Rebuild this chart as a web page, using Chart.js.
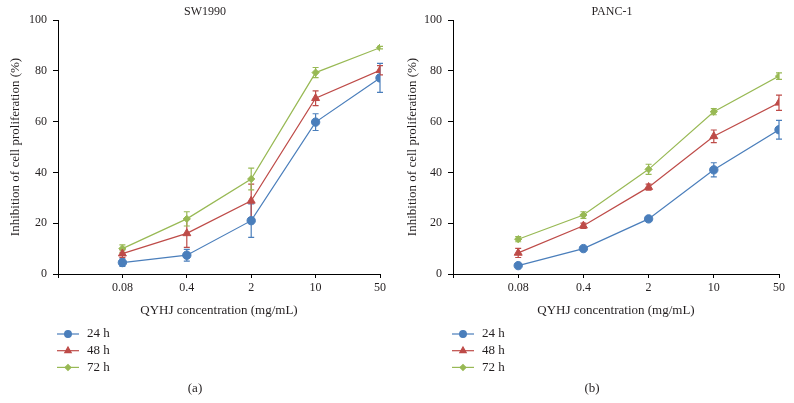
<!DOCTYPE html>
<html>
<head>
<meta charset="utf-8">
<script src="https://cdn.jsdelivr.net/npm/chart.js@4.4.0/dist/chart.umd.min.js"></script>
<style>
body{margin:0;background:#fff;}
.wrap{display:flex;width:794px;height:403px;}
.panel{width:397px;height:403px;}
</style>
</head>
<body>
<div class="wrap">
  <div class="panel"><canvas id="chartA" width="397" height="403"></canvas></div>
  <div class="panel"><canvas id="chartB" width="397" height="403"></canvas></div>
</div>
<script>
// data
const concentrations = ['0.08', '0.4', '2', '10', '50'];
const seriesNames = ['24 h', '48 h', '72 h'];

const sw24 = [4.5, 7.4, 21, 59.8, 77.2];
const sw24Err = [1.5, 2.3, 6.6, 3.3, 5.7];
const sw48 = [8, 16, 28.8, 69.2, 80.2];
const sw48Err = [1.5, 5.5, 6.6, 2.9, 1.8];
const sw72 = [10, 21.7, 37.4, 79.3, 89.1];
const sw72Err = [1.5, 2.8, 4.3, 2, 0.5];

const pc24 = [3.3, 10, 21.7, 41, 56.8];
const pc24Err = [0.5, 0.6, 1, 2.8, 3.7];
const pc48 = [8.3, 19, 34.2, 54.2, 67.4];
const pc48Err = [1.8, 1, 1.2, 2.5, 3];
const pc72 = [13.7, 23.2, 41.2, 63.9, 77.9];
const pc72Err = [1, 1.3, 2, 1.2, 1.3];

const colors = ['#4a7ebb', '#be4b48', '#98b954'];
const pointStyles = ['circle', 'triangle', 'rectRot'];
const pointSizes = [4.2, 4.6, 3.6];
const textColor = '#231f20';
const serif = '"Liberation Serif", "DejaVu Serif", serif';

function toPoints(values) {
    return values.map((v, i) => ({x: i + 1, y: v}));
}

function makeDatasets(series, errors) {
    return series.map((s, i) => ({
        label: seriesNames[i],
        data: toPoints(s),
        errors: errors[i],
        borderColor: colors[i],
        backgroundColor: colors[i],
        borderWidth: 1.2,
        pointStyle: pointStyles[i],
        pointRadius: pointSizes[i],
        pointBorderWidth: 1,
        tension: 0,
        fill: false
    }));
}

// vertical error bars, drawn under the markers
const errorBars = {
    id: 'errorBars',
    beforeDatasetsDraw(chart) {
        const ctx = chart.ctx;
        const yScale = chart.scales.y;
        chart.data.datasets.forEach((ds, di) => {
            const meta = chart.getDatasetMeta(di);
            ctx.save();
            ctx.strokeStyle = ds.borderColor;
            ctx.lineWidth = 1.2;
            meta.data.forEach((pt, i) => {
                const v = ds.data[i].y;
                const e = ds.errors[i];
                const top = yScale.getPixelForValue(v + e);
                const bot = yScale.getPixelForValue(v - e);
                ctx.beginPath();
                ctx.moveTo(pt.x, top); ctx.lineTo(pt.x, bot);
                ctx.moveTo(pt.x - 3, top); ctx.lineTo(pt.x + 3, top);
                ctx.moveTo(pt.x - 3, bot); ctx.lineTo(pt.x + 3, bot);
                ctx.stroke();
            });
            ctx.restore();
        });
    }
};

// title, vertical legend and panel caption
const extras = {
    id: 'extras',
    afterDraw(chart, args, opts) {
        const ctx = chart.ctx;
        ctx.save();
        ctx.fillStyle = textColor;
        ctx.textBaseline = 'middle';
        ctx.textAlign = 'center';
        ctx.font = '12px ' + serif;
        ctx.fillText(opts.title, opts.titleX, 12);
        ctx.font = '13px ' + serif;
        ctx.fillText(opts.caption, opts.captionX, 389);

        ctx.textAlign = 'left';
        chart.data.datasets.forEach((ds, i) => {
            const y = 334 + i * 16.7;
            ctx.strokeStyle = ds.borderColor;
            ctx.fillStyle = ds.backgroundColor;
            ctx.lineWidth = 1.2;
            ctx.beginPath();
            ctx.moveTo(opts.legendX, y);
            ctx.lineTo(opts.legendX + 22, y);
            ctx.stroke();
            Chart.helpers.drawPoint(ctx, {
                pointStyle: ds.pointStyle, radius: ds.pointRadius * 0.8, rotation: 0, borderWidth: 1
            }, opts.legendX + 11, y);
            ctx.fillStyle = textColor;
            ctx.fillText(ds.label, opts.legendX + 30, y);
        });
        ctx.restore();
    }
};

function makeChart(id, series, errors, panel) {
    return new Chart(document.getElementById(id), {
        type: 'line',
        data: {datasets: makeDatasets(series, errors)},
        plugins: [errorBars, extras],
        options: {
            responsive: false,
            animation: false,
            layout: {padding: {left: 0, right: panel.right, top: 20, bottom: 85}},
            plugins: {
                legend: {display: false},
                tooltip: {enabled: false},
                extras: panel
            },
            scales: {
                x: {
                    type: 'linear',
                    min: 0,
                    max: 5,
                    afterFit: (s) => { s.height = 44; },
                    ticks: {
                        stepSize: 1,
                        autoSkip: false,
                        maxRotation: 0,
                        padding: 3,
                        color: textColor,
                        font: {family: serif, size: 12},
                        callback: (v) => concentrations[v - 1] || ''
                    },
                    grid: {drawOnChartArea: false, drawTicks: true, tickLength: 4, color: '#000'},
                    border: {display: true, color: '#000', width: 1},
                    title: {
                        display: true,
                        text: 'QYHJ concentration (mg/mL)',
                        color: textColor,
                        font: {family: serif, size: 13},
                        padding: {top: 0, bottom: 0}
                    }
                },
                y: {
                    min: 0,
                    max: 100,
                    afterFit: (s) => { s.width = panel.axisX; },
                    ticks: {
                        stepSize: 20,
                        padding: 6,
                        color: textColor,
                        font: {family: serif, size: 12}
                    },
                    grid: {drawOnChartArea: false, drawTicks: true, tickLength: 5, color: '#000'},
                    border: {display: true, color: '#000', width: 1},
                    title: {
                        display: true,
                        text: 'Inhibition of cell proliferation (%)',
                        color: textColor,
                        font: {family: serif, size: 13},
                        padding: {top: 8, bottom: 0}
                    }
                }
            }
        }
    });
}

var chartA = makeChart('chartA', [sw24, sw48, sw72], [sw24Err, sw48Err, sw72Err],
    {title: 'SW1990', titleX: 205, caption: '(a)', captionX: 195, legendX: 57, axisX: 58, right: 17});
var chartB = makeChart('chartB', [pc24, pc48, pc72], [pc24Err, pc48Err, pc72Err],
    {title: 'PANC-1', titleX: 215, caption: '(b)', captionX: 195, legendX: 55, axisX: 56, right: 15});
</script>
</body>
</html>
